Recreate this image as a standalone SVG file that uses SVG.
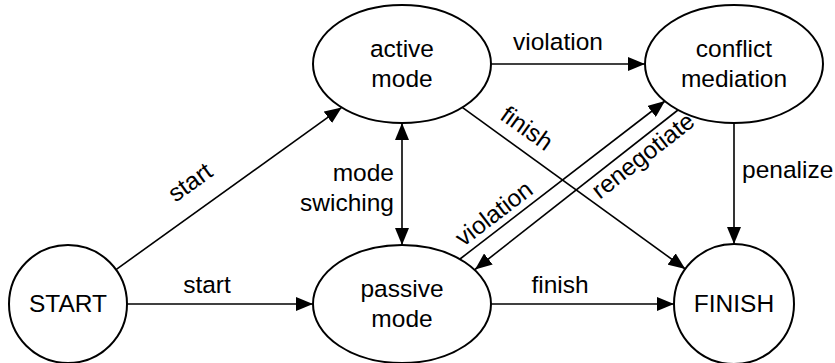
<svg xmlns="http://www.w3.org/2000/svg" width="835" height="363" viewBox="0 0 835 363">
<style>
.node{fill:#fff;stroke:#000;stroke-width:2}
.edge{fill:none;stroke:#000;stroke-width:1.6}
text{font-family:"Liberation Sans",Arial,Helvetica,sans-serif;font-size:24.5px;fill:#000}
.c{text-anchor:middle}
.r{text-anchor:end}
</style>
<defs>
<marker id="ah" markerUnits="userSpaceOnUse" markerWidth="18" markerHeight="14" refX="17" refY="7" orient="auto-start-reverse">
<path d="M0,0 L17,7 L0,14 z" fill="#000"/>
</marker>
</defs>
<rect width="835" height="363" fill="#fff"/>
<g id="connectors">
<line class="edge" x1="127" y1="304" x2="313" y2="304" marker-end="url(#ah)"/>
<line class="edge" x1="116" y1="269.6" x2="341.7" y2="107.4" marker-end="url(#ah)"/>
<line class="edge" x1="402" y1="123" x2="402" y2="245" marker-start="url(#ah)" marker-end="url(#ah)"/>
<line class="edge" x1="491" y1="64" x2="645" y2="64" marker-end="url(#ah)"/>
<line class="edge" x1="462.3" y1="107.4" x2="685.3" y2="269" marker-end="url(#ah)"/>
<line class="edge" x1="460" y1="259" x2="665" y2="101" marker-end="url(#ah)"/>
<line class="edge" x1="678" y1="110" x2="475" y2="269.5" marker-end="url(#ah)"/>
<line class="edge" x1="734" y1="123" x2="734" y2="244" marker-end="url(#ah)"/>
<line class="edge" x1="491" y1="304" x2="674" y2="304" marker-end="url(#ah)"/>
<text class="c" x="207" y="293">start</text>
<text class="c" transform="translate(195,189) rotate(-35.5)">start</text>
<text class="r" x="394" y="181">mode</text>
<text class="r" x="394" y="211">swiching</text>
<text class="c" x="558" y="50">violation</text>
<text class="c" transform="translate(522,135) rotate(35.5)">finish</text>
<text class="c" transform="translate(499,220) rotate(-37.5)">violation</text>
<text class="c" transform="translate(648,162) rotate(-38)">renegotiate</text>
<text x="742" y="178">penalize</text>
<text class="c" x="560" y="293">finish</text>
</g>
<g id="start">
<circle class="node" cx="68" cy="304" r="59"/>
<text class="c" x="68" y="312">START</text>
</g>
<g id="active">
<ellipse class="node" cx="402" cy="64" rx="89" ry="59"/>
<text class="c" x="402" y="57">active</text>
<text class="c" x="402" y="87">mode</text>
</g>
<g id="conflict">
<ellipse class="node" cx="734" cy="64" rx="89" ry="59"/>
<text class="c" x="734" y="57">conflict</text>
<text class="c" x="734" y="87">mediation</text>
</g>
<g id="passive">
<ellipse class="node" cx="402" cy="304" rx="89" ry="59"/>
<text class="c" x="402" y="297">passive</text>
<text class="c" x="402" y="327">mode</text>
</g>
<g id="finish">
<circle class="node" cx="734" cy="304" r="60"/>
<text class="c" x="734" y="312">FINISH</text>
</g>
</svg>
